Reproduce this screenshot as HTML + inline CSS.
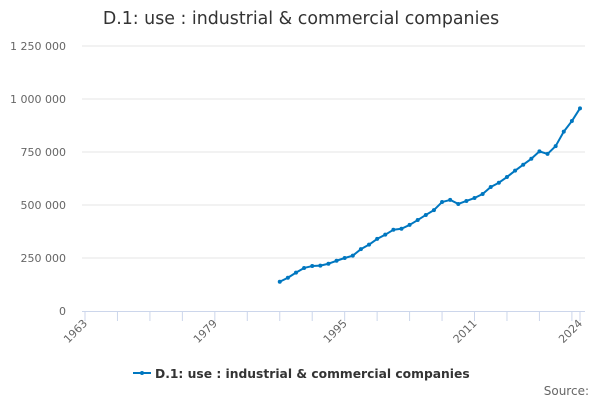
<!DOCTYPE html>
<html><head><meta charset="utf-8"><style>
body{margin:0;background:#fff;}
svg{display:block;font-family:"DejaVu Sans","Liberation Sans",sans-serif;}
</style></head><body>
<svg id="chart" width="600" height="400">
<text x="301" y="24" text-anchor="middle" font-size="17.4" fill="#333">D.1: use : industrial &amp; commercial companies</text>
<g id="grid"></g><g id="xaxis"></g><g id="series"></g>
<g>
<line x1="133" y1="373" x2="151" y2="373" stroke="#0077c0" stroke-width="2"/>
<circle cx="142" cy="373" r="2" fill="#0077c0"/>
<text x="155" y="378" font-size="12.3" font-weight="bold" fill="#333">D.1: use : industrial &amp; commercial companies</text>
</g>
<text x="589" y="395" text-anchor="end" font-size="12" fill="#666">Source:</text>
</svg>
<script>
const years=[1987,1988,1989,1990,1991,1992,1993,1994,1995,1996,1997,1998,1999,2000,2001,2002,2003,2004,2005,2006,2007,2008,2009,2010,2011,2012,2013,2014,2015,2016,2017,2018,2019,2020,2021,2022,2023,2024];
const values=[138000,157000,181000,203000,212000,214000,223000,237000,250000,261000,292000,313000,340000,360000,383000,388000,406000,429000,453000,476000,514000,524000,505000,519000,533000,552000,585000,605000,632000,662000,690000,718000,753000,741000,778000,846000,896000,956000];
const yTicks=[0,250000,500000,750000,1000000,1250000];
const yTickLabels=["0","250 000","500 000","750 000","1 000 000","1 250 000"];
const xLabels=[1963,1979,1995,2011,2024];
const NS="http://www.w3.org/2000/svg";
function X(yr){return 85+(yr-1963)*(580-85)/61;}
function Y(v){return 311-v*53/250000;}
function mk(t,a,p){const e=document.createElementNS(NS,t);for(const k in a)e.setAttribute(k,a[k]);p.appendChild(e);return e;}
const grid=document.getElementById('grid'),xa=document.getElementById('xaxis'),sr=document.getElementById('series');
yTicks.forEach((v,i)=>{
 if(v>0){const l=mk('line',{x1:82,x2:585,y1:Y(v),y2:Y(v),stroke:'#e6e6e6','stroke-width':1},grid);
 
 }
 const t=mk('text',{x:66,y:Y(v)+4,'text-anchor':'end','font-size':11,fill:'#666'},grid);t.textContent=yTickLabels[i];
 
 
});
const ax=mk('line',{x1:82,x2:585,y1:311.5,y2:311.5,stroke:'#ccd6eb','stroke-width':1},xa);


const tickYears=[];for(let y=1963;y<=2023;y+=4)tickYears.push(y);tickYears.push(2024);
tickYears.forEach(yr=>{const t=mk('line',{x1:X(yr),x2:X(yr),y1:311,y2:321,stroke:'#ccd6eb'},xa);
 
 });
xLabels.forEach(yr=>{const x=X(yr)+3,y=324;
 const t=mk('text',{x:x,y:y,'text-anchor':'end','font-size':11,fill:'#666',transform:`rotate(-45 ${x} ${y})`},xa);t.textContent=yr;
 
 });
const pts=years.map((yr,i)=>X(yr)+','+Y(values[i])).join(' ');
const pl=mk('polyline',{points:pts,fill:'none',stroke:'#0077c0','stroke-width':2,'stroke-linejoin':'round'},sr);


years.forEach((yr,i)=>{const c=mk('circle',{cx:X(yr),cy:Y(values[i]),r:2,fill:'#0077c0'},sr);
 
 });
</script>
</body></html>
